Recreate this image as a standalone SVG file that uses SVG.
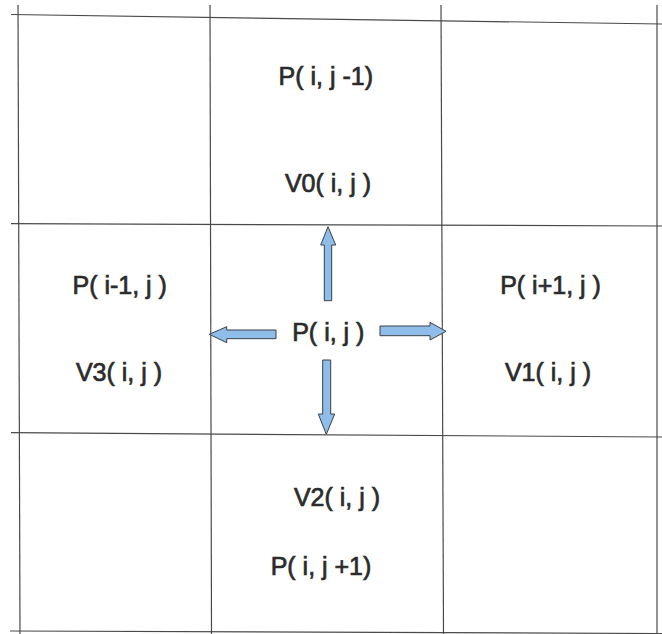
<svg xmlns="http://www.w3.org/2000/svg" width="662" height="634" viewBox="0 0 662 634">
<style>
.grid line{stroke:#4a4a4a;stroke-width:1.2;fill:none}
.lbl{font-family:"Liberation Sans",Arial,sans-serif;font-size:25px;fill:#2b2b2b;stroke:#2b2b2b;stroke-width:0.7;text-anchor:middle}
.arr{fill:#8fbdea;stroke:#3a3f48;stroke-width:1}
</style>
<rect width="662" height="634" fill="#ffffff"/>
<g id="grid" class="grid">
<line x1="18" y1="5" x2="20" y2="634"/>
<line x1="210" y1="5" x2="211.5" y2="634"/>
<line x1="441" y1="5" x2="443.5" y2="634"/>
<line x1="657" y1="5" x2="657" y2="634"/>
<line x1="11" y1="14.5" x2="662" y2="24"/>
<line x1="11" y1="223.7" x2="662" y2="226"/>
<line x1="11" y1="432.7" x2="662" y2="437"/>
<line x1="10" y1="631" x2="662" y2="633.5"/>
</g>
<g id="nodes">
<g id="n-p-up"><text class="lbl" x="325.8" y="85">P( i, j -1)</text></g>
<g id="n-v0"><text class="lbl" x="328" y="192">V0( i, j )</text></g>
<g id="n-p-left"><text class="lbl" x="119.7" y="294">P( i-1, j )</text></g>
<g id="n-v3"><text class="lbl" x="119" y="381">V3( i, j )</text></g>
<g id="n-p-center"><text class="lbl" x="328.3" y="341">P( i, j )</text></g>
<g id="n-p-right"><text class="lbl" x="550.5" y="294">P( i+1, j )</text></g>
<g id="n-v1"><text class="lbl" x="548" y="381">V1( i, j )</text></g>
<g id="n-v2"><text class="lbl" x="337" y="506">V2( i, j )</text></g>
<g id="n-p-down"><text class="lbl" x="321" y="575">P( i, j +1)</text></g>
</g>
<g id="connectors">
<polygon class="arr" points="324.3,300.7 324.3,245 320.7,245 328,226.7 335.7,245 331.7,245 331.7,300.7"/>
<polygon class="arr" points="380,326 430,326 430,322.3 446,331.3 430,340 430,335.7 380,335.7"/>
<polygon class="arr" points="276,330 226.7,330 226.7,326.7 209.3,334.3 226.7,342.7 226.7,338.7 276,338.7"/>
<polygon class="arr" points="322.7,360 322.7,414 318.3,414 326.3,434.3 334.7,414 330.7,414 330.7,360"/>
</g>
</svg>
